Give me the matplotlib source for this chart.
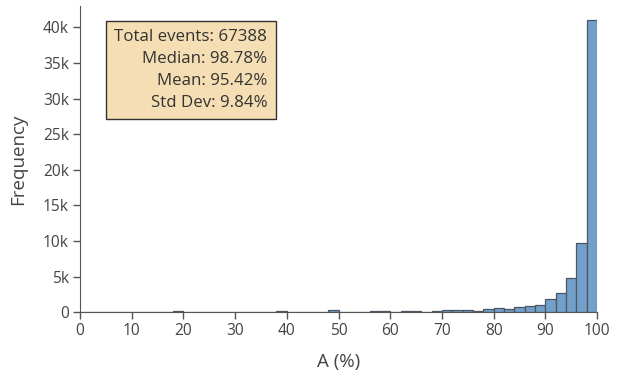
import matplotlib.pyplot as plt
from matplotlib.ticker import FuncFormatter

plt.rcParams['font.family'] = ['Open Sans', 'DejaVu Sans']

# histogram bins: left edges, width 2 (percent)
bin_left = list(range(0, 100, 2))
counts = [30, 20, 20, 20, 20, 20, 20, 20, 30, 150,
          40, 30, 30, 30, 40, 50, 40, 30, 40, 120,
          50, 40, 40, 50, 300, 60, 50, 60, 110, 150,
          80, 180, 160, 60, 150, 300, 300, 260, 200, 470,
          600, 400, 750, 850, 1000, 1800, 2700, 4800, 9700, 41000]
stats_text = "Total events: 67388\nMedian: 98.78%\nMean: 95.42%\nStd Dev: 9.84%"

txt = '#444444'
fig = plt.figure(figsize=(6.24, 3.77), dpi=100)
ax = fig.add_axes([0.128, 0.172, 0.829, 0.812])
ax.bar(bin_left, counts, width=2, align='edge', color='#72a0cb',
       edgecolor='#4d5560', linewidth=0.9)

ax.set_xlim(0, 100)
ax.set_ylim(0, 43000)
ax.set_xticks(range(0, 101, 10))
ax.set_yticks(range(0, 40001, 5000))
ax.yaxis.set_major_formatter(FuncFormatter(lambda v, p: '0' if v == 0 else f'{int(v/1000)}k'))
for s in ['top', 'right']:
    ax.spines[s].set_visible(False)
for s in ['left', 'bottom']:
    ax.spines[s].set_color('#555555')
ax.tick_params(colors='#555555', labelcolor=txt, labelsize=11.2, length=5, width=1, pad=3)
ax.set_xlabel('A (%)', fontsize=13.5, color=txt, labelpad=10)
ax.set_ylabel('Frequency', fontsize=13.5, color=txt, labelpad=11)

ax.text(0.362, 0.925, stats_text, transform=ax.transAxes, ha='right', va='top',
        fontsize=12.2, color='#333333', linespacing=1.5, multialignment='right',
        bbox=dict(boxstyle='square,pad=0.5', facecolor='#f5deb3', edgecolor='#333333', linewidth=1))

fig.savefig('out.png', dpi=100)
